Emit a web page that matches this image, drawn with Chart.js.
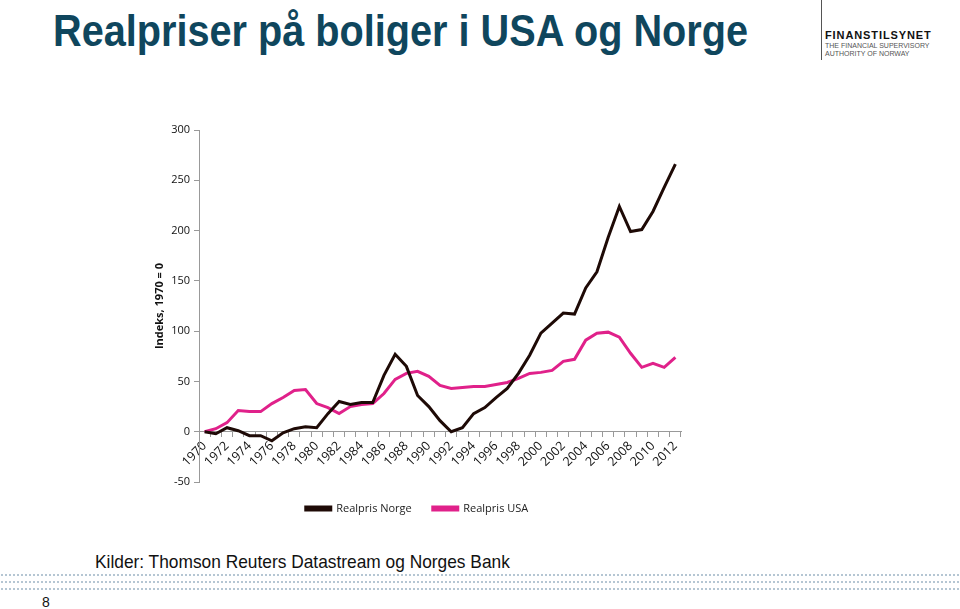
<!DOCTYPE html>
<html>
<head>
<meta charset="utf-8">
<script src="https://cdn.jsdelivr.net/npm/chart.js@4"></script>
<style>
  body { margin: 0; width: 960px; height: 609px; background: #fff; position: relative; overflow: hidden; font-family: "Liberation Sans", Arial, sans-serif; }
  #tittel { position: absolute; left: 53px; top: 6px; font-size: 44px; font-weight: bold; color: #0f465d; white-space: nowrap; transform-origin: left top; }
  #logoStrek { position: absolute; left: 821px; top: 0; width: 1px; height: 60px; background: #555; }
  #logo1 { position: absolute; left: 825px; top: 29px; font-size: 11px; font-weight: bold; letter-spacing: 0.9px; color: #111; }
  #logo2 { position: absolute; left: 825px; top: 42px; font-size: 7px; line-height: 8px; color: #555; }
  #kilder { position: absolute; left: 95px; top: 551px; font-size: 19px; color: #111; white-space: nowrap; transform-origin: left top; }
  .prikker { position: absolute; left: 0; width: 960px; height: 2px;
    background-image: radial-gradient(circle, #b5c6d3 0.8px, transparent 1px); background-size: 4px 2px; }
  #side { position: absolute; left: 42px; top: 594px; font-size: 14px; color: #111; }
  #chartBox { position: absolute; left: 100px; top: 110px; width: 638px; height: 420px; }
</style>
</head>
<body>
<div id="tittel">Realpriser på boliger i USA og Norge</div>
<div id="logoStrek"></div>
<div id="logo1">FINANSTILSYNET</div>
<div id="logo2">THE FINANCIAL SUPERVISORY<br>AUTHORITY OF NORWAY</div>
<div id="kilder">Kilder: Thomson Reuters Datastream og Norges Bank</div>
<div class="prikker" style="top:574px"></div>
<div class="prikker" style="top:581px"></div>
<div class="prikker" style="top:588px"></div>
<div id="side">8</div>
<div id="chartBox"><canvas id="grafen"></canvas></div>

<script>
// år 1970 - 2012
const aar = [];
for (let a = 1970; a <= 2012; a++) aar.push(String(a));

// Realpris Norge (indeks, 1970 = 0)
const realprisNorge = [0, -2, 4, 1, -4, -4, -9, -1, 3, 5,
    4, 18, 30, 27, 29, 29, 56, 77, 65, 36,
    25, 11, 0, 4, 18, 24, 34, 43, 58, 76,
    98, 108, 118, 117, 143, 159, 193, 224, 199, 201,
    219, 243, 266];

// Realpris USA (indeks, 1970 = 0)
const realprisUSA = [0, 3, 9, 21, 20, 20, 28, 34, 41, 42,
    28, 24, 18, 25, 27, 28, 38, 52, 58, 60,
    55, 46, 43, 44, 45, 45, 47, 49, 53, 58,
    59, 61, 70, 72, 91, 98, 99, 94, 78, 64,
    68, 64, 74];

// skalere tekst til riktig bredde
function tilpassBredde(id, bredde) {
    const el = document.getElementById(id);
    el.style.transform = 'scaleX(' + (bredde / el.offsetWidth) + ')';
}
tilpassBredde('tittel', 695);
tilpassBredde('kilder', 415);

const ctx = document.getElementById('grafen').getContext('2d');
new Chart(ctx, {
    type: 'line',
    data: {
        labels: aar,
        datasets: [{
            label: 'Realpris Norge',
            data: realprisNorge,
            borderColor: '#1e0a06',
            backgroundColor: '#1e0a06',
            borderWidth: 3,
            pointRadius: 0,
            tension: 0
        }, {
            label: 'Realpris USA',
            data: realprisUSA,
            borderColor: '#e0218a',
            backgroundColor: '#e0218a',
            borderWidth: 3,
            pointRadius: 0,
            tension: 0
        }]
    },
    options: {
        responsive: true,
        maintainAspectRatio: false,
        animation: false,
        layout: { padding: { top: 20, right: 57, bottom: 6, left: 53 } },
        plugins: {
            legend: {
                position: 'bottom',
                labels: {
                    boxWidth: 25,
                    boxHeight: 3,
                    padding: 21,
                    color: '#222',
                    font: { family: 'Open Sans', size: 11 }
                }
            },
            tooltip: { enabled: false }
        },
        scales: {
            x: {
                position: { y: 0 },
                offset: true,
                grid: { drawOnChartArea: false, drawTicks: true, tickLength: 5, color: '#999', offset: true },
                border: { color: '#999' },
                ticks: {
                    autoSkip: false,
                    maxRotation: 45,
                    minRotation: 45,
                    padding: 2,
                    color: '#111',
                    font: { family: 'Open Sans', size: 12.5 },
                    callback: function (v, i) { return i % 2 === 0 ? aar[i] : ''; }
                }
            },
            y: {
                min: -50,
                max: 300,
                afterFit: function (s) { s.width = 46; },
                grid: { drawOnChartArea: false, drawTicks: true, tickLength: 5, color: '#999' },
                border: { color: '#999' },
                ticks: {
                    stepSize: 50,
                    padding: 4,
                    color: '#111',
                    font: { family: 'Open Sans', size: 11 }
                },
                title: {
                    display: true,
                    text: 'Indeks, 1970 = 0',
                    color: '#111',
                    font: { family: 'Open Sans', size: 11, weight: 'bold' },
                    padding: { top: 0, bottom: 4 }
                }
            }
        }
    }
});
</script>
</body>
</html>
